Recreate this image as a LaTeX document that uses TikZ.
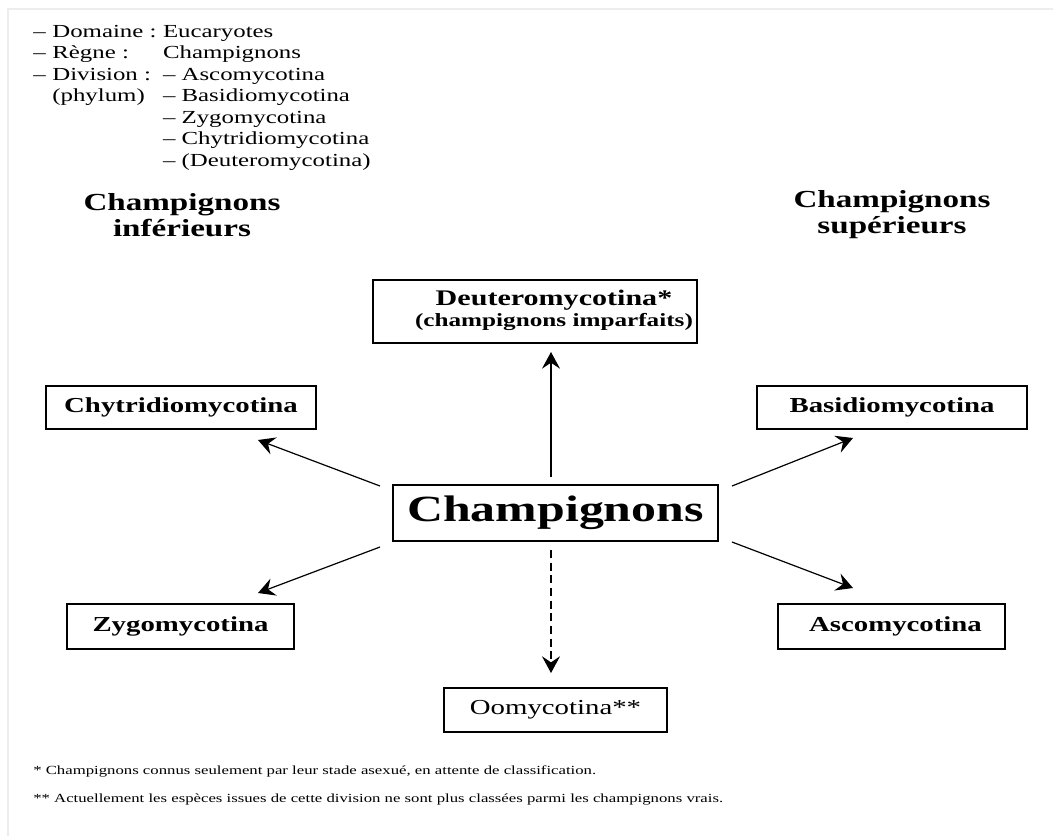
\documentclass[tikz,border=0pt]{standalone}
\usepackage{fontspec}
\setmainfont{Liberation Serif}[FakeStretch=1.35]
\usetikzlibrary{arrows.meta}

\begin{document}
\begin{tikzpicture}[x=.75pt,y=-.75pt,
  box/.style={draw,line width=1pt,inner sep=0pt,align=center},
  widebox/.style={box,minimum width=202.5pt,minimum height=32.25pt,font=\bfseries\fontsize{16}{19}\selectfont},
  narrowbox/.style={box,minimum width=170.25pt,minimum height=33.75pt,font=\bfseries\fontsize{16}{19}\selectfont},
  heading/.style={align=center,inner sep=0pt,font=\bfseries\fontsize{18.4}{19.5}\selectfont},
  note/.style={anchor=base west,inner sep=0pt,font=\fontsize{9.3}{10}\selectfont},
  arr/.style={line width=.9pt,-{Stealth[length=12.5pt,width=13.5pt,inset=4.5pt]}}]
\path[use as bounding box] (0,0) rectangle (1053,836);
\draw[black!7,line width=1.5pt] (8,836)--(8,9)--(1053,9);

\node[anchor=base west,inner sep=0pt,font=\fontsize{13.8}{16.1}\selectfont] (taxo) at (33,37.5)
  {\begin{tabular}[t]{@{}l@{\hspace{5pt}}p{83pt}@{}l@{}}
   -- & Domaine : & Eucaryotes\\
   -- & Règne : & Champignons\\
   -- & Division : & -- Ascomycotina\\
      & (phylum) & -- Basidiomycotina\\
      & & -- Zygomycotina\\
      & & -- Chytridiomycotina\\
      & & -- (Deuteromycotina)
  \end{tabular}};

\node[heading] (lowhead) at (182,215) {Champignons\\inférieurs};
\node[heading] (uphead) at (892,215) {Champignons\\supérieurs};

\node[box,minimum width=243pt,minimum height=47.25pt,font=\bfseries\fontsize{14}{15.75}\selectfont] (deut) at (535,311.5)
  {\hspace*{28.5pt}\raisebox{-2.5pt}{\begin{tabular}{@{}c@{}}
   {\fontsize{16.7}{18}\selectfont Deuteromycotina*}\\
   (champignons imparfaits)
  \end{tabular}}};
\node[widebox] (chyt) at (181,407.5) {Chytridiomycotina};
\node[widebox] (basid) at (892,407.5) {Basidiomycotina};
\node[box,minimum width=243.75pt,minimum height=42pt,font=\bfseries\fontsize{27.7}{30}\selectfont] (champ) at (555.5,513) {Champignons};
\node[narrowbox] (zygo) at (180.5,626.5) {Zygomycotina};
\node[narrowbox] (asco) at (891.5,626.5) {\hspace*{6pt}Ascomycotina};
\node[box,minimum width=167.25pt,minimum height=33pt,font=\fontsize{16}{19}\selectfont] (oomy) at (555.5,710) {Oomycotina**};

\coordinate (deut-s) at (551,477);
\coordinate (deut-e) at (551,352);
\coordinate (chyt-s) at (380,486);
\coordinate (chyt-e) at (258,440);
\coordinate (zygo-s) at (380,547);
\coordinate (zygo-e) at (258,593);
\coordinate (basid-s) at (732,486);
\coordinate (basid-e) at (853,438);
\coordinate (asco-s) at (732,542);
\coordinate (asco-e) at (853,588);
\coordinate (oomy-s) at (551,550);
\coordinate (oomy-e) at (551,673);

\draw[arr] (deut-s) -- (deut-e);
\draw[arr] (chyt-s) -- (chyt-e);
\draw[arr] (zygo-s) -- (zygo-e);
\draw[arr] (basid-s) -- (basid-e);
\draw[arr] (asco-s) -- (asco-e);
\draw[arr,dash pattern=on 6pt off 3.5pt] (oomy-s) -- (oomy-e);

\node[note] (note1) at (33,774) {* Champignons connus seulement par leur stade asexué, en attente de classification.};
\node[note] (note2) at (33,802) {** Actuellement les espèces issues de cette division ne sont plus classées parmi les champignons vrais.};
\end{tikzpicture}
\end{document}
